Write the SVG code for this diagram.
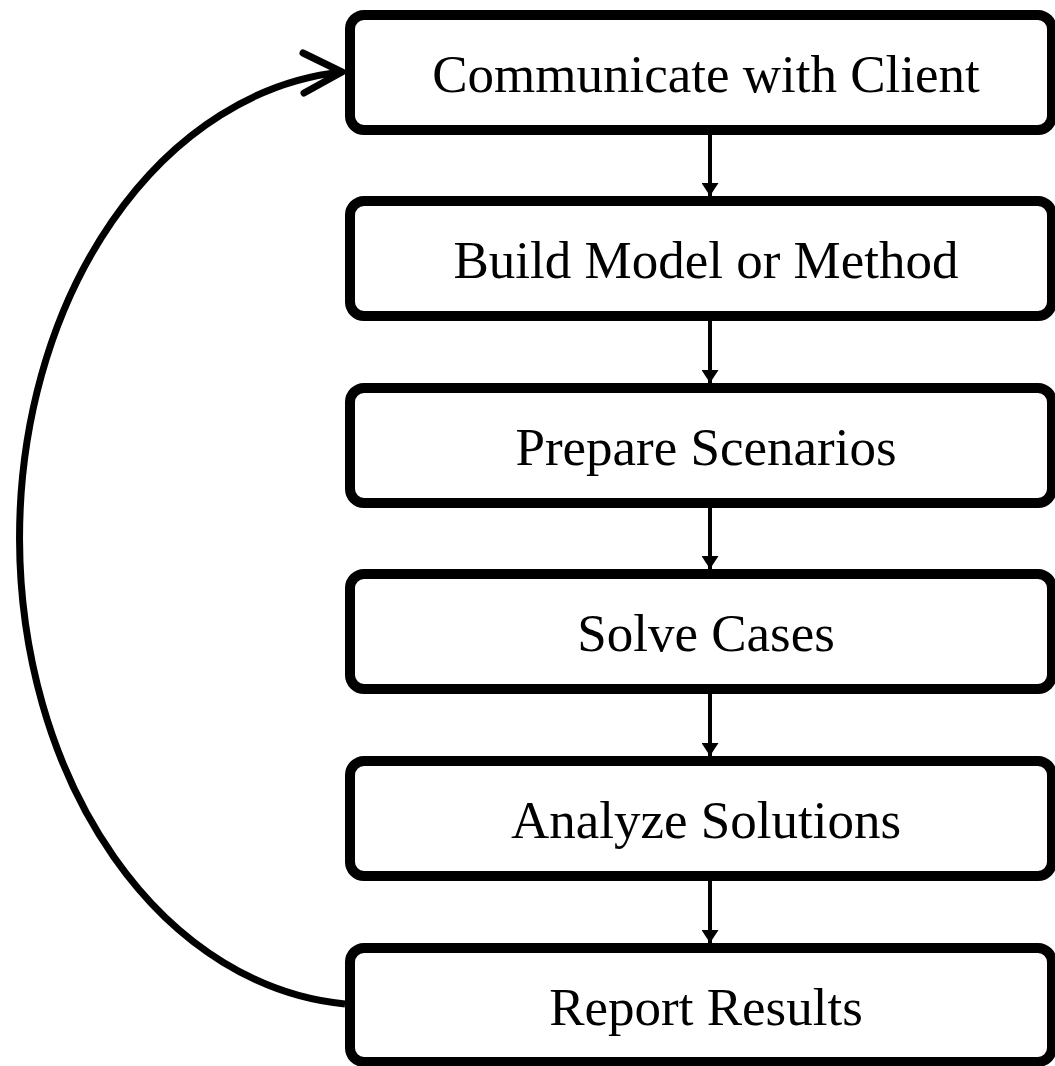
<svg xmlns="http://www.w3.org/2000/svg" width="1055" height="1066" viewBox="0 0 1055 1066">
<style>
.box{fill:#fff;stroke:#000;stroke-width:10;}
.lbl{font-family:"Liberation Serif","Times New Roman",serif;font-size:53px;fill:#000;text-anchor:middle;}
.conn{stroke:#000;stroke-width:4;fill:none;}
</style>
<defs>
<marker id="ah" markerUnits="userSpaceOnUse" markerWidth="14" markerHeight="17" refX="13" refY="8.5" orient="auto">
<path d="M0,0 L13,8.5 L0,17 Z" fill="#000"/>
</marker>
</defs>
<g id="connectors">
<line class="conn" x1="710" y1="135" x2="710" y2="196" marker-end="url(#ah)"/>
<line class="conn" x1="710" y1="321" x2="710" y2="383" marker-end="url(#ah)"/>
<line class="conn" x1="710" y1="508" x2="710" y2="569" marker-end="url(#ah)"/>
<line class="conn" x1="710" y1="694" x2="710" y2="756" marker-end="url(#ah)"/>
<line class="conn" x1="710" y1="881" x2="710" y2="943" marker-end="url(#ah)"/>
<path d="M345,1004 A350,467.3 0 0 1 342,72" fill="none" stroke="#000" stroke-width="7"/>
<path d="M303,53 L342,72 L304,93" fill="none" stroke="#000" stroke-width="7" stroke-linecap="round" stroke-linejoin="round"/>
</g>
<g id="n1"><rect class="box" x="350" y="15" width="702" height="115" rx="14"/><text class="lbl" x="706" y="92">Communicate with Client</text></g>
<g id="n2"><rect class="box" x="350" y="201" width="702" height="115" rx="14"/><text class="lbl" x="706" y="278">Build Model or Method</text></g>
<g id="n3"><rect class="box" x="350" y="388" width="702" height="115" rx="14"/><text class="lbl" x="706" y="465">Prepare Scenarios</text></g>
<g id="n4"><rect class="box" x="350" y="574" width="702" height="115" rx="14"/><text class="lbl" x="706" y="651">Solve Cases</text></g>
<g id="n5"><rect class="box" x="350" y="761" width="702" height="115" rx="14"/><text class="lbl" x="706" y="838">Analyze Solutions</text></g>
<g id="n6"><rect class="box" x="350" y="948" width="702" height="114" rx="14"/><text class="lbl" x="706" y="1025">Report Results</text></g>
</svg>
